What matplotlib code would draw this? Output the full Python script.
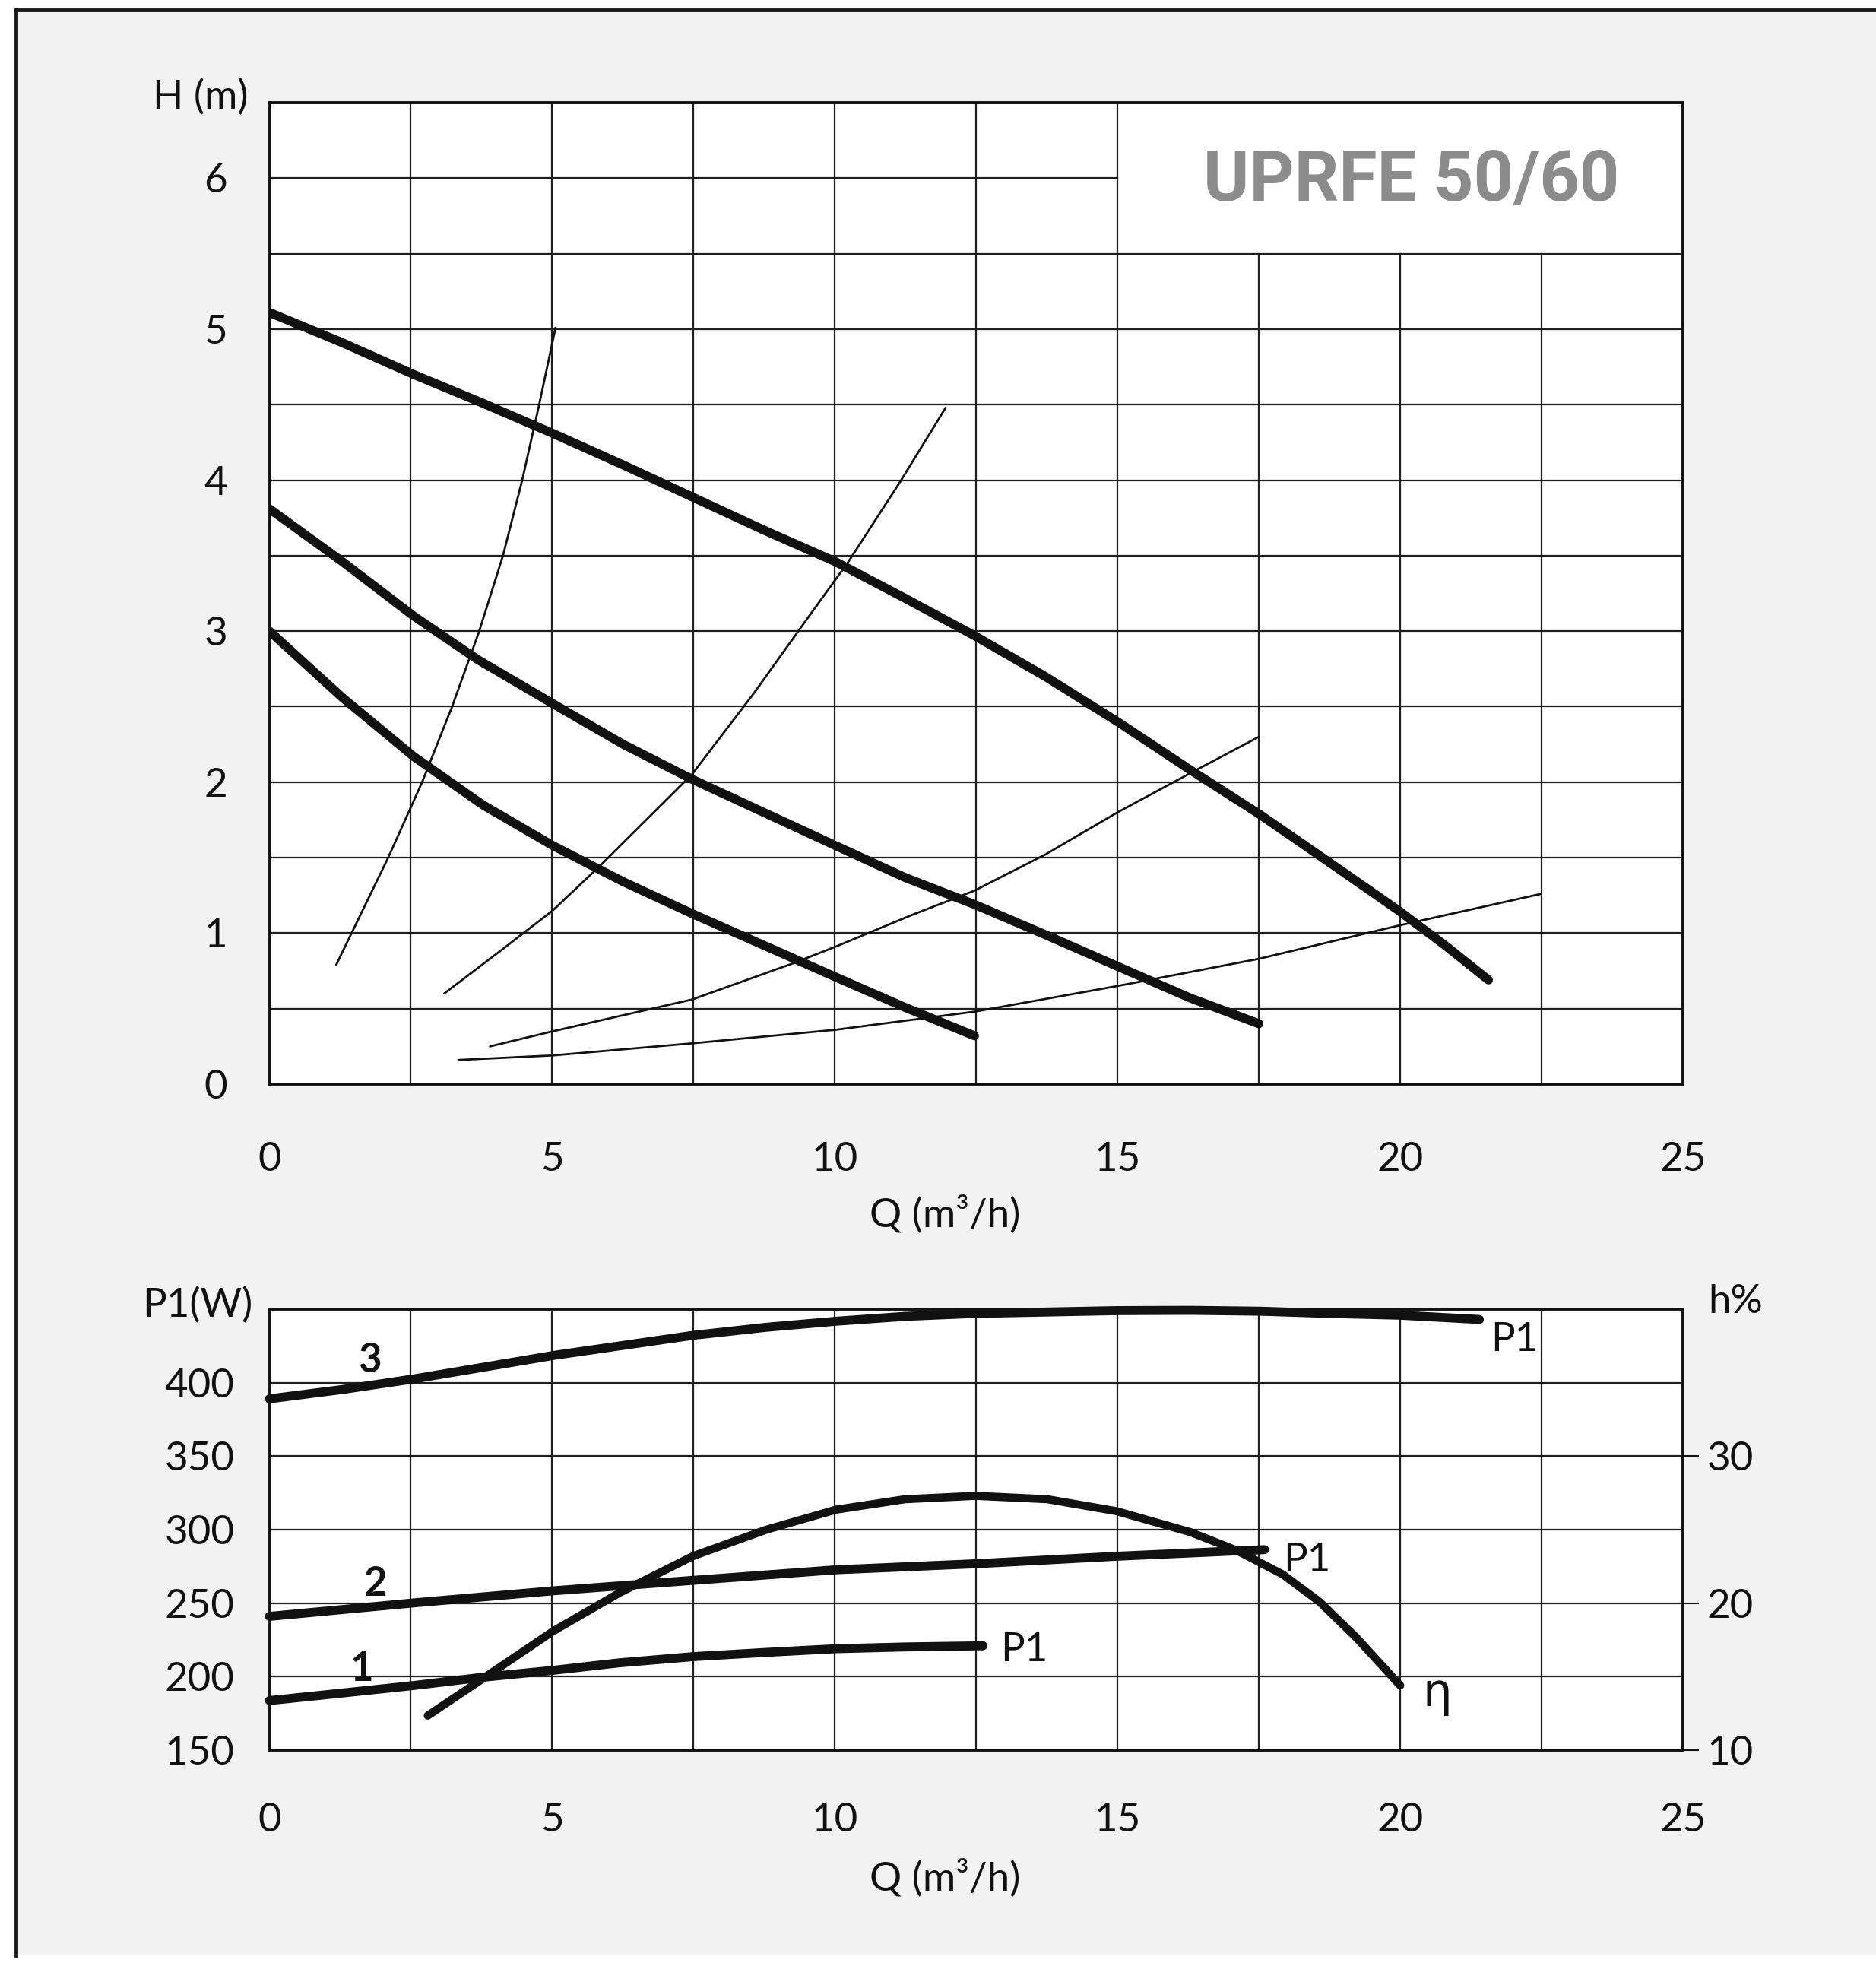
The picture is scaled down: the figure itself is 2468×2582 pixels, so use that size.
#pump performance curves UPRFE 50/60
import numpy as np
import matplotlib
matplotlib.use('Agg')
import matplotlib.pyplot as plt
from matplotlib.patches import Rectangle
from matplotlib.lines import Line2D

plt.rcParams['font.family'] = ['Lato', 'DejaVu Sans']

#--- head curves H(Q), speeds 1..3
q_h3 = [0, 1.29, 2.55, 3.77, 5.01, 6.26, 7.47, 8.74, 10.01, 11.23, 12.47, 13.72, 15.0, 16.29, 17.5, 18.74, 19.97, 20.79, 21.56]
h3 = [5.11, 4.91, 4.70, 4.51, 4.31, 4.10, 3.89, 3.67, 3.46, 3.22, 2.97, 2.70, 2.40, 2.08, 1.79, 1.47, 1.15, 0.92, 0.69]
q_h2 = [0, 1.29, 2.55, 3.69, 5.01, 6.26, 7.47, 8.74, 10.01, 11.23, 12.47, 13.72, 15.0, 16.29, 17.5]
h2 = [3.81, 3.46, 3.10, 2.81, 2.52, 2.25, 2.02, 1.80, 1.58, 1.37, 1.19, 0.99, 0.78, 0.57, 0.40]
q_h1 = [0, 1.29, 2.55, 3.77, 5.01, 6.26, 7.47, 8.74, 10.01, 11.23, 12.47]
h1 = [3.0, 2.56, 2.17, 1.85, 1.58, 1.34, 1.13, 0.92, 0.71, 0.51, 0.32]

#--- system curves (thin)
qa = [1.18, 2.10, 2.70, 3.23, 3.71, 4.13, 4.47, 4.77, 5.06]
ha = [0.79, 1.5, 2.0, 2.5, 3.0, 3.5, 4.0, 4.5, 5.01]
qb = [3.09, 4.11, 5.01, 5.83, 6.69, 7.47, 8.57, 9.43, 10.24, 11.14, 11.96]
hb = [0.60, 0.89, 1.15, 1.44, 1.76, 2.05, 2.59, 3.04, 3.46, 3.98, 4.48]
qc = [3.90, 5.01, 7.47, 9.26, 10.01, 11.36, 12.46, 13.72, 15.0, 16.29, 17.5]
hc = [0.25, 0.35, 0.56, 0.80, 0.91, 1.12, 1.28, 1.52, 1.80, 2.06, 2.30]
qd = [3.34, 5.01, 7.47, 10.01, 12.47, 15.0, 17.5, 19.97, 22.49]
hd = [0.16, 0.19, 0.27, 0.36, 0.48, 0.65, 0.83, 1.05, 1.26]

#--- power curves P1(Q)
q_p3 = [0, 1.30, 2.56, 3.75, 5.02, 6.19, 7.49, 8.79, 10.02, 11.24, 12.49, 14.98, 16.29, 17.54, 18.73, 20.0, 21.4]
p3 = [389, 395.4, 402.6, 410.3, 418.5, 425, 432.2, 437.7, 441.8, 445.1, 447.1, 449, 449.2, 448.6, 447.1, 445.9, 443]
q_p2 = [0, 2.56, 5.02, 7.49, 10.02, 12.49, 14.98, 17.6]
p2 = [241, 250.2, 258.4, 265.5, 272.7, 276.8, 281.9, 286.4]
q_p1 = [0, 1.30, 2.56, 3.75, 5.02, 6.19, 7.49, 8.79, 10.02, 11.24, 12.62]
p1 = [183.7, 188.9, 194, 199.5, 204.3, 209.4, 213.6, 216.5, 219, 220.2, 221]

#--- efficiency (right axis, %)
q_eta = [2.80, 3.75, 5.02, 6.19, 7.49, 8.79, 10.02, 11.24, 12.49, 13.76, 14.98, 16.29, 17.1, 17.92, 18.57, 19.22, 20.0]
eta = [12.35, 14.8, 18.1, 20.7, 23.2, 25.0, 26.36, 27.07, 27.3, 27.07, 26.26, 24.83, 23.6, 21.96, 20.1, 17.67, 14.4]

q_ticks = [0, 5, 10, 15, 20, 25]
h_ticks = [0, 1, 2, 3, 4, 5, 6]
p_ticks = [150, 200, 250, 300, 350, 400]
eta_ticks = [10, 20, 30]

W, H = 2468, 2582
fig = plt.figure(figsize=(W/100, H/100), dpi=100)
fig.patch.set_facecolor('white')

#grey sheet with black top/left border
fx0, fy_top, fy_bot = 21/W, 1-13/H, 1-2572/H
fig.patches.append(Rectangle((fx0, fy_bot), 1-fx0, fy_top-fy_bot, transform=fig.transFigure,
                             facecolor='#f2f2f2', edgecolor='none', zorder=-10))
fig.add_artist(Line2D([fx0, 1], [fy_top, fy_top], color='#1a1a1a', lw=3.5))
fig.add_artist(Line2D([fx0, fx0], [fy_top, fy_bot], color='#1a1a1a', lw=3.5))

ink = '#111111'
grid_c = '#1e1e1e'
thick = 8.5
thin = 2.0
fs = 38

def frame(ax):
	ax.set_facecolor('white')
	for s in ax.spines.values():
		s.set_linewidth(2.8)
		s.set_color(ink)
	ax.set_axisbelow(True)

#================ top chart: H(Q)
ax1 = fig.add_axes([354.5/W, 1-1426/H, 1859.5/W, 1291/H])
frame(ax1)
ax1.set_xlim(0, 25)
ax1.set_ylim(0, 6.5)

#grid (title box cut out top right)
for x in np.arange(2.5, 25, 2.5):
	top = 5.5 if x > 15 else 6.5
	ax1.plot([x, x], [0, top], color=grid_c, lw=1.6, zorder=0.5)
for y in np.arange(0.5, 6.5, 0.5):
	right = 15 if y > 5.5 else 25
	ax1.plot([0, right], [y, y], color=grid_c, lw=1.6, zorder=0.5)

for q, h in [(q_h3, h3), (q_h2, h2), (q_h1, h1)]:
	ax1.plot(q, h, color=ink, lw=thick, solid_capstyle='round', solid_joinstyle='round', zorder=4)
for q, h in [(qa, ha), (qb, hb), (qc, hc), (qd, hd)]:
	ax1.plot(q, h, color=ink, lw=thin, solid_capstyle='round', solid_joinstyle='round', zorder=3)

ax1.text(20.2, 5.98, 'UPRFE 50/60', ha='center', va='center', fontsize=66,
		 fontweight='bold', color='#8c8c8c', family=['Roboto', 'DejaVu Sans'])

ax1.set_xticks(q_ticks)
ax1.set_yticks(h_ticks)
ax1.tick_params(axis='both', length=0, labelsize=fs, colors=ink)
ax1.tick_params(axis='x', pad=55)
ax1.tick_params(axis='y', pad=40)
ax1.text(-0.049, 1.005, 'H (m)', transform=ax1.transAxes, ha='center', va='center', fontsize=fs, color=ink)
ax1.text(0.478, -0.1325, 'Q (m³/h)', transform=ax1.transAxes, ha='center', va='center', fontsize=fs, color=ink)

#================ bottom chart: P1(Q) and efficiency
ax2 = fig.add_axes([354.5/W, 1-2302/H, 1859.5/W, 580/H])
frame(ax2)
ax2.set_xlim(0, 25)
ax2.set_ylim(150, 450)
for x in np.arange(2.5, 25, 2.5):
	ax2.plot([x, x], [150, 450], color=grid_c, lw=1.6, zorder=0.5)
for y in np.arange(200, 450, 50):
	ax2.plot([0, 25], [y, y], color=grid_c, lw=1.6, zorder=0.5)

for q, p in [(q_p3, p3), (q_p2, p2), (q_p1, p1)]:
	ax2.plot(q, p, color=ink, lw=thick, solid_capstyle='round', solid_joinstyle='round',
			 zorder=4, clip_on=False)

ax2.text(1.78, 415, '3', ha='center', va='center', fontsize=fs, fontweight='bold', color=ink)
ax2.text(1.88, 263, '2', ha='center', va='center', fontsize=fs, fontweight='bold', color=ink)
ax2.text(1.63, 205, '1', ha='center', va='center', fontsize=fs, fontweight='bold', color=ink)
ax2.text(21.6, 429, 'P1', ha='left', va='center', fontsize=fs, color=ink)
ax2.text(17.93, 279, 'P1', ha='left', va='center', fontsize=fs, color=ink)
ax2.text(12.93, 218, 'P1', ha='left', va='center', fontsize=fs, color=ink)
ax2.text(20.4, 180, 'η', ha='left', va='baseline', fontsize=44, color=ink,
		 family=['DejaVu Sans'])

ax2.set_xticks(q_ticks)
ax2.set_yticks(p_ticks)
ax2.tick_params(axis='both', length=0, labelsize=fs, colors=ink)
ax2.tick_params(axis='x', pad=50)
ax2.tick_params(axis='y', pad=33)
ax2.text(-0.051, 1.009, 'P1(W)', transform=ax2.transAxes, ha='center', va='center', fontsize=fs, color=ink)
ax2.text(0.478, -0.29, 'Q (m³/h)', transform=ax2.transAxes, ha='center', va='center', fontsize=fs, color=ink)

ax3 = ax2.twinx()
ax3.set_ylim(10, 40)
ax3.set_yticks(eta_ticks)
ax3.tick_params(axis='y', direction='out', length=15, width=1.5, pad=8, labelsize=fs, colors=ink)
for s in ax3.spines.values():
	s.set_visible(False)
ax3.plot(q_eta, eta, color=ink, lw=thick*0.9, solid_capstyle='round', solid_joinstyle='round', zorder=4)
ax3.text(1.037, 1.017, 'h%', transform=ax3.transAxes, ha='center', va='center', fontsize=fs, color=ink)

plt.savefig('out.png', dpi=100)
